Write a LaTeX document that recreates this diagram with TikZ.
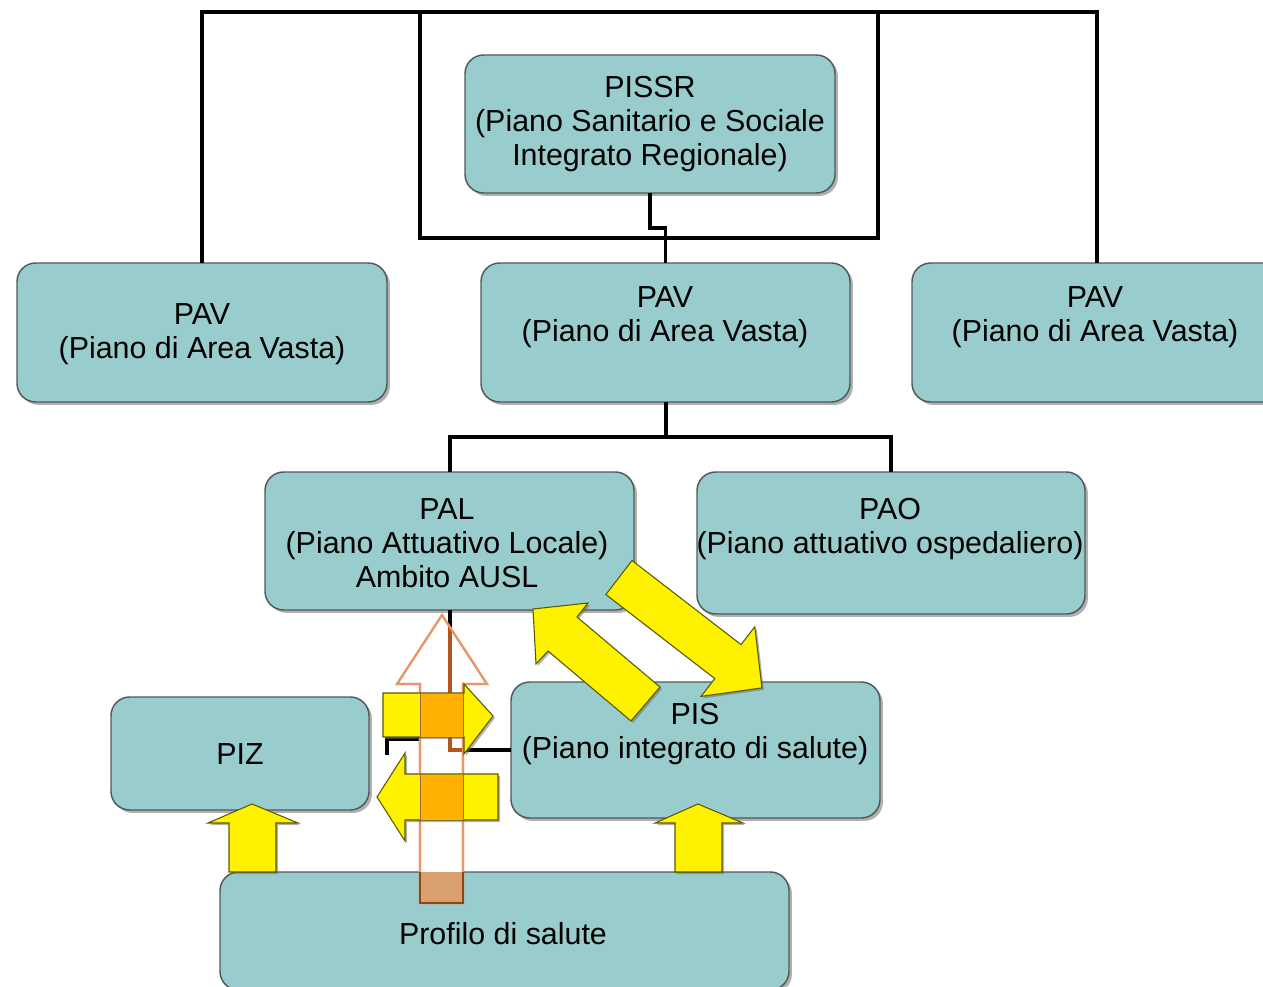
\documentclass[tikz,border=0pt]{standalone}
\usepackage{fontspec}
\setmainfont{Liberation Sans}
\usetikzlibrary{shadows}
\definecolor{boxfill}{HTML}{99CCCC}
\definecolor{boxline}{HTML}{4F5A5A}
\definecolor{arrowline}{HTML}{E8976A}
\definecolor{brownline}{HTML}{B0561E}
\definecolor{tanfill}{HTML}{D9A070}
\definecolor{overlapfill}{HTML}{FFB000}
\definecolor{yline}{HTML}{5A5A00}
\tikzset{
  box/.style={draw=boxline, line width=1.1pt, fill=boxfill, rounded corners=14pt,
    inner sep=0pt, outer sep=0pt,
    drop shadow={shadow xshift=2.2pt, shadow yshift=-2.2pt, fill=black!62}},
  boxsize/.style 2 args={minimum width=#1*0.75pt, minimum height=#2*0.75pt},
  lbl/.style={align=center, font=\fontsize{22.8}{25.5}\selectfont, text=black, inner sep=0pt},
  conn/.style={line width=3pt, black},
  thinconn/.style={line width=2.5pt, black},
  yarrow/.style={fill=yellow, draw=yline, line width=0.8pt,
    drop shadow={shadow xshift=1.5pt, shadow yshift=-1.5pt, fill=black!60}},
  hollow/.style={fill=white, draw=arrowline, line width=1.6pt},
}
\begin{document}
\begin{tikzpicture}[x=0.75pt,y=-0.75pt]
\useasboundingbox (0,0) rectangle (1263,987);
\clip (0,0) rectangle (1263,987);

% boxes
\node[box, boxsize={370}{138}] (pissr) at (650,124) {};
\node[lbl] (pissr-t) at (650,124) {PISSR\\(Piano Sanitario e Sociale\\Integrato Regionale)};

\node[box, boxsize={370}{139}] (pavl) at (202,332.5) {};
\node[lbl] (pavl-t) at (202,334) {PAV\\(Piano di Area Vasta)};

\node[box, boxsize={369}{139}] (pavm) at (665.5,332.5) {};
\node[lbl] (pavm-t) at (665,317) {PAV\\(Piano di Area Vasta)};

\node[box, boxsize={370}{139}] (pavr) at (1097,332.5) {};
\node[lbl] (pavr-t) at (1095,317) {PAV\\(Piano di Area Vasta)};

\node[box, boxsize={369}{138}] (pal) at (449.5,541) {};
\node[lbl] (pal-t) at (447,543) {PAL\\(Piano Attuativo Locale)\\Ambito AUSL};

\node[box, boxsize={388}{142}] (pao) at (891,543) {};
\node[lbl] (pao-t) at (890,529) {PAO\\(Piano attuativo ospedaliero)};

\node[box, boxsize={258}{113}] (piz) at (240,753.5) {};
\node[lbl] (piz-t) at (240,754) {PIZ};

\node[box, boxsize={369}{136}] (pis) at (695.5,750) {};
\node[lbl] (pis-t) at (695,734) {PIS\\(Piano integrato di salute)};

\node[box, boxsize={569}{118}] (prof) at (504.5,931) {};
\node[lbl] (prof-t) at (503,934) {Profilo di salute};

% connectors
\coordinate (top) at (650,12);
\coordinate (bus) at (665,437);
\draw[conn] (pavl.north) -- (pavl.north |- top) -- (pavr.north |- top) -- (pavr.north);
\draw[conn] (420,12) rectangle (878,238);
\draw[thinconn] (pissr.south) -- ++(0,35) -| (pavm.north);
\draw[conn] (pavm.south) -- (pavm.south |- bus);
\draw[conn] (pal.north) -- (pal.north |- bus) -- (pao.north |- bus) -- (pao.north);
\draw[conn] (pal.south) |- (pis.west);
\coordinate (stubA) at (387,755);
\coordinate (stubB) at (387,739);
\draw[conn] (stubA) -- (stubB) -- (stubB -| pal.south);

% hollow up arrow
\def\hollowpath{(442,615) -- (487,684) -- (463,684) -- (463,903) -- (420,903) -- (420,684) -- (397,684) -- cycle}
\path[hollow] \hollowpath;
\begin{scope}
  \clip \hollowpath;
  \draw[line width=3pt, brownline] (pal.south) |- (pis.west);
  \fill[tanfill] (420,872) rectangle (463,903);
\end{scope}
\path[draw=arrowline, line width=1.6pt] \hollowpath;
\draw[brownline!80!black, line width=0.8pt] (420,872) -- (420,903) -- (463,903) -- (463,872);

% up arrows from Profilo
\path[yarrow] (229,872) -- (229,823) -- (208,823) -- (252,804) -- (298,823) -- (276,823) -- (276,872) -- cycle;
\path[yarrow] (675,872) -- (675,823) -- (655,823) -- (698,804) -- (743,823) -- (722,823) -- (722,872) -- cycle;

% horizontal yellow arrows
\path[yarrow] (383,693) -- (464,693) -- (464,684) -- (493,716) -- (464,754) -- (464,737) -- (383,737) -- cycle;
\path[yarrow] (498,774) -- (405,774) -- (405,753) -- (377,797) -- (405,841) -- (405,820) -- (498,820) -- cycle;
\fill[overlapfill] (420.5,693.5) rectangle (462.5,736.5);
\fill[overlapfill] (420.5,774.5) rectangle (462.5,819.5);
\draw[arrowline!70!black, line width=0.6pt] (420,693) -- (420,737) (463,693) -- (463,737)
  (420,774) -- (420,820) (463,774) -- (463,820);

% diagonal arrows
\path[yarrow] (660,687) -- (577,617) -- (588,603) -- (533,609) -- (536,664) -- (548,651) -- (631,721) -- cycle;
\path[yarrow] (632,560.5) -- (741,644.6) -- (754.8,626.8) -- (761.9,687.9) -- (701,696.4) -- (714.8,678.6) -- (605.9,594.5) -- cycle;
\end{tikzpicture}
\end{document}
